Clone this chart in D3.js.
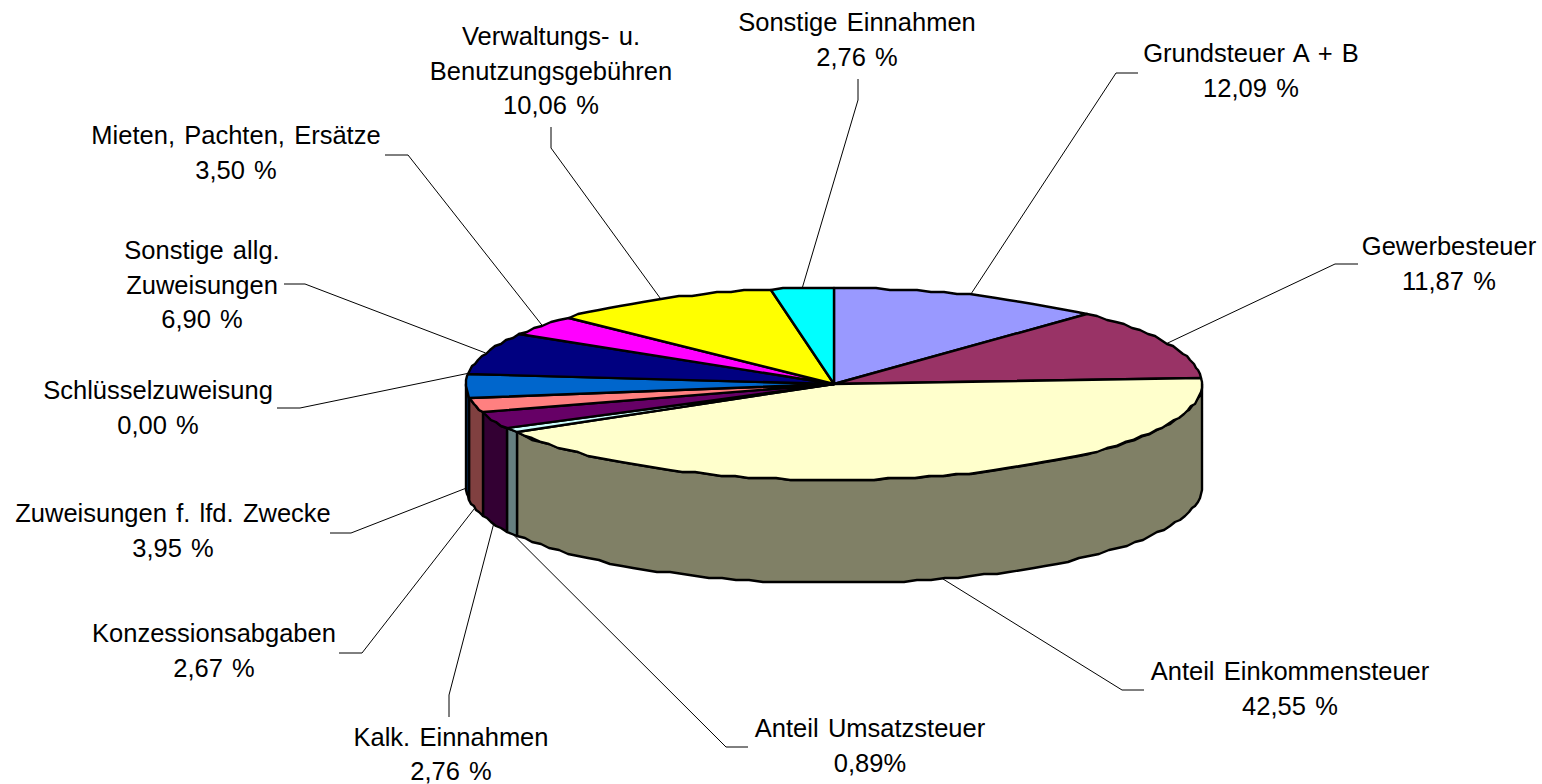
<!DOCTYPE html>
<html>
<head>
<meta charset="utf-8">
<script src="https://cdn.jsdelivr.net/npm/d3@7"></script>
<style>
  html, body { margin: 0; padding: 0; background: #fff; overflow: hidden; }
  text { font-family: "Liberation Sans", Arial, sans-serif; font-size: 25.5px; word-spacing: 2.2px; fill: #000; text-anchor: middle; }
</style>
</head>
<body>
<svg class="chart" width="1542" height="784"></svg>
<script>
// data, clockwise from 12 o'clock
const categories = [
  ["Grundsteuer A + B"],
  ["Gewerbesteuer"],
  ["Anteil Einkommensteuer"],
  ["Anteil Umsatzsteuer"],
  ["Kalk. Einnahmen"],
  ["Konzessionsabgaben"],
  ["Zuweisungen f. lfd. Zwecke"],
  ["Schlüsselzuweisung"],
  ["Sonstige allg.", "Zuweisungen"],
  ["Mieten, Pachten, Ersätze"],
  ["Verwaltungs- u.", "Benutzungsgebühren"],
  ["Sonstige Einnahmen"]
];
const values = [12.09, 11.87, 42.55, 0.89, 2.76, 2.67, 3.95, 0.00, 6.90, 3.50, 10.06, 2.76];
const valueLabels = ["12,09 %", "11,87 %", "42,55 %", "0,89%", "2,76 %", "2,67 %", "3,95 %", "0,00 %", "6,90 %", "3,50 %", "10,06 %", "2,76 %"];
const colors = ["#9999ff", "#993366", "#ffffcc", "#ccffff", "#660066", "#ff8080", "#0066cc", "#c0c0c0", "#000080", "#ff00ff", "#ffff00", "#00ffff"];

// label layout: text centre, first baseline, leader elbow and leader end
const labelX = [1251, 1449, 1290, 870, 451, 214, 173, 158, 202, 236, 551, 857];
const labelY = [62, 255, 680, 737, 745.5, 642, 522, 399, 259, 144, 45, 31];
const elbows = [[1116, 73], [1335, 264], [1122, 690], [726, 747], [449, 695], [362, 653], [351, 533], [300, 408], [305, 284], [408, 155], [551, 148], [858, 100]];
const leaderEnds = [[1138, 73], [1358, 264], [1144, 690], [748, 747], [449, 717], [339, 653], [330, 533], [277, 408], [284, 284], [385, 155], [551, 127], [858, 79]];

const lineHeight = 34.5;
const depth = 103;

const svg = d3.select(".chart");

// unit circle -> tilted pie on screen
const xScale = d3.scaleLinear().domain([-1, 1]).range([466, 1202]);
const yScale = d3.scaleLinear().domain([-1, 1]).range([288, 480]);

const pieData = d3.pie().sort(null).value(d => d)(values);

function project(angle, drop) {
  return [xScale(Math.sin(angle)), yScale(-Math.cos(angle)) + drop];
}

// outline is a coarse polygon on a 2px grid, the original has the same wobbly rim
function rimPoints(a0, a1, drop) {
  let step = 2.2 * Math.PI / 180;
  let n = Math.max(1, Math.ceil(Math.abs(a1 - a0) / step));
  return d3.range(n + 1).map(i => {
    let p = project(a0 + (a1 - a0) * i / n, drop);
    return [Math.round(p[0]), Math.round(p[1] / 2) * 2];
  });
}

const line = d3.line();
const pieCentre = [xScale(0), yScale(0)];

// front walls, only the part between 3 and 9 o'clock shows
const wallData = pieData
  .map((d, i) => ({
    a0: Math.max(d.startAngle, Math.PI / 2),
    a1: Math.min(d.endAngle, Math.PI * 1.5),
    color: colors[i]
  }))
  .filter(d => d.a1 > d.a0);

svg.selectAll(".wall")
  .data(wallData)
  .enter()
  .append("path")
    .attr("class", "wall")
    .attr("d", d => line(rimPoints(d.a0, d.a1, 0).concat(rimPoints(d.a1, d.a0, depth))) + "Z")
    .style("fill", d => { let c = d3.rgb(d.color); return d3.rgb(c.r / 2, c.g / 2, c.b / 2); })
    .style("stroke", "#000")
    .style("stroke-width", 2.4)
    .style("stroke-linejoin", "round");

// top of the pie
svg.selectAll(".slice")
  .data(pieData.map((d, i) => ({ d: d, color: colors[i] })).filter(s => s.d.value > 0))
  .enter()
  .append("path")
    .attr("class", "slice")
    .attr("d", s => line([pieCentre].concat(rimPoints(s.d.startAngle, s.d.endAngle, 0))) + "Z")
    .style("fill", s => s.color)
    .style("stroke", "#000")
    .style("stroke-width", 2.4)
    .style("stroke-linejoin", "round");

// leader lines start at the middle of the slice, on the visible rim
function leaderStart(d) {
  let mid = (d.startAngle + d.endAngle) / 2;
  let front = Math.cos(mid) < 0;
  return project(mid, front ? depth : 0);
}

svg.selectAll(".leader")
  .data(pieData)
  .enter()
  .append("path")
    .attr("class", "leader")
    .attr("d", (d, i) => line([leaderStart(d), elbows[i], leaderEnds[i]]))
    .style("fill", "none")
    .style("stroke", "#000")
    .style("stroke-width", 1);

// labels
const labels = svg.selectAll(".label")
  .data(categories)
  .enter()
  .append("text")
    .attr("class", "label")
    .attr("x", (d, i) => labelX[i])
    .attr("y", (d, i) => labelY[i]);

labels.selectAll("tspan")
  .data((d, i) => d.concat([valueLabels[i]]).map(t => ({ t: t, x: labelX[i] })))
  .enter()
  .append("tspan")
    .attr("x", d => d.x)
    .attr("dy", (d, i) => i === 0 ? 0 : lineHeight)
    .text(d => d.t);
</script>
</body>
</html>
